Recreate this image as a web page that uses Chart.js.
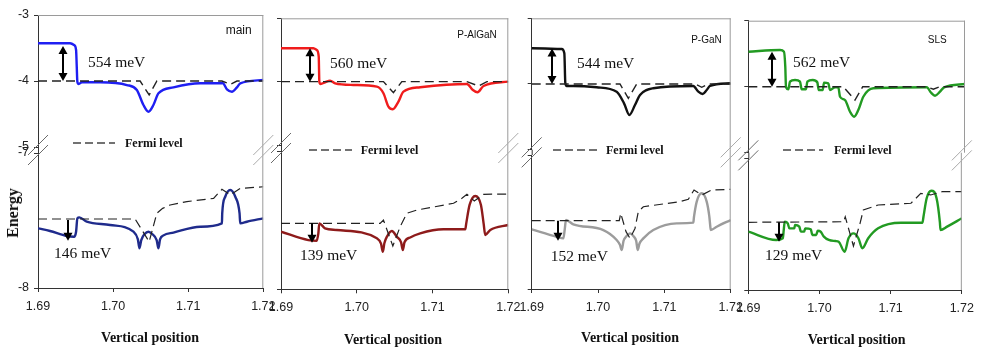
<!DOCTYPE html>
<html>
<head>
<meta charset="utf-8">
<script src="https://cdn.jsdelivr.net/npm/chart.js@4/dist/chart.umd.min.js"></script>
<style>
  html, body { margin: 0; padding: 0; background: #fff; }
  #wrap { position: relative; width: 981px; height: 350px; overflow: hidden; }
  #wrap canvas { position: absolute; left: 0; top: 0; }
  .t { position: absolute; white-space: nowrap; color: #111; line-height: 1; }
  .mev { font: 15.5px "Liberation Serif", serif; transform: translateY(-50%); }
  .fermi { font: bold 12px "Liberation Serif", serif; transform: translateY(-50%); }
  .tag { font: 10px "Liberation Sans", Arial, sans-serif; transform: translate(-100%, -50%); }
  .tag.big { font-size: 12px; }
  .xt { font: bold 14px "Liberation Serif", serif; transform: translate(-50%, -50%); }
  .yt { font: bold 16px "Liberation Serif", serif; transform: translate(-50%, -50%) rotate(-90deg); }
</style>
</head>
<body>
<div id="wrap"></div>
<script>
// axis ticks
const xTicks = [1.69, 1.70, 1.71, 1.72];
const upperTicks = [-3, -4, -5];
const lowerTicks = [-7, -8];

const panelNames = ["main", "P-AlGaN", "P-GaN", "SLS"];
const gapUp = [554, 560, 544, 562];   // meV, upper arrows
const gapLow = [146, 139, 152, 129];  // meV, lower arrows

// main
const mainUpper = [[1.69,-3.429],[1.69427,-3.429],[1.6948,-3.455],[1.69507,-3.53],[1.69516,-3.783],[1.69524,-4.01],[1.69543,-4.045],[1.69583,-4.02],[1.69827,-4.02],[1.70183,-4.061],[1.70316,-4.136],[1.70404,-4.364],[1.70471,-4.465],[1.70537,-4.364],[1.70604,-4.187],[1.70804,-4.096],[1.7116,-4.035],[1.71462,-4.035],[1.71516,-4.126],[1.71582,-4.162],[1.71649,-4.096],[1.71693,-4.035],[1.72,-3.985]];
const mainUpperFermi = [[1.69,-4],[1.7036,-4],[1.7048,-4.212],[1.70583,-4],[1.71449,-4],[1.7156,-4.05],[1.71649,-4],[1.72,-4]];
const mainLower = [[1.69,-7.558],[1.6916,-7.578],[1.69383,-7.615],[1.6948,-7.62],[1.69507,-7.583],[1.69524,-7.484],[1.6955,-7.477],[1.69649,-7.509],[1.6996,-7.533],[1.70271,-7.583],[1.7033,-7.64],[1.70351,-7.706],[1.70375,-7.645],[1.7042,-7.6],[1.70471,-7.583],[1.7052,-7.6],[1.7058,-7.645],[1.70604,-7.706],[1.70625,-7.64],[1.70671,-7.61],[1.70804,-7.59],[1.7116,-7.546],[1.71449,-7.521],[1.71453,-7.447],[1.71493,-7.324],[1.7156,-7.274],[1.71627,-7.324],[1.71684,-7.447],[1.71693,-7.521],[1.71782,-7.509],[1.72,-7.484]];
const mainLowerFermi = [[1.69,-7.489],[1.70293,-7.489],[1.7048,-7.657],[1.70582,-7.447],[1.7066,-7.41],[1.7076,-7.385],[1.70982,-7.36],[1.71338,-7.336],[1.71449,-7.269],[1.7156,-7.31],[1.71693,-7.262],[1.72,-7.25]];

// P-AlGaN
const alganUpper = [[1.69,-3.473],[1.69427,-3.473],[1.69471,-3.5],[1.69498,-3.606],[1.69506,-4.0],[1.69524,-4.036],[1.69581,-4.01],[1.69648,-3.984],[1.69714,-4.026],[1.69955,-4.052],[1.70265,-4.079],[1.70352,-4.183],[1.70418,-4.394],[1.70476,-4.435],[1.7055,-4.315],[1.70616,-4.157],[1.70837,-4.088],[1.71454,-4.036],[1.71533,-4.131],[1.71594,-4.167],[1.71673,-4.068],[1.72,-4.0]];
const alganUpperFermi = [[1.69,-4],[1.70352,-4],[1.70484,-4.173],[1.70595,-4],[1.71454,-4],[1.71607,-4.068],[1.71718,-4],[1.72,-4]];
const alganLower = [[1.69,-7.583],[1.69361,-7.644],[1.69471,-7.649],[1.69493,-7.595],[1.69506,-7.523],[1.69581,-7.559],[1.69736,-7.571],[1.70265,-7.631],[1.7032,-7.67],[1.70344,-7.728],[1.70365,-7.665],[1.70397,-7.62],[1.70463,-7.578],[1.70529,-7.62],[1.70585,-7.66],[1.70608,-7.716],[1.7063,-7.66],[1.70705,-7.625],[1.70837,-7.595],[1.71145,-7.566],[1.71432,-7.566],[1.71445,-7.523],[1.71489,-7.39],[1.71564,-7.325],[1.71639,-7.39],[1.71674,-7.523],[1.71696,-7.607],[1.71762,-7.571],[1.72,-7.535]];
const alganLowerFermi = [[1.69,-7.523],[1.70308,-7.523],[1.70352,-7.499],[1.70476,-7.687],[1.70573,-7.547],[1.70661,-7.45],[1.70793,-7.427],[1.71277,-7.378],[1.71388,-7.342],[1.71454,-7.313],[1.71551,-7.361],[1.71674,-7.313],[1.72,-7.311]];

// P-GaN
const ganUpper = [[1.69,-3.457],[1.69452,-3.467],[1.69492,-3.533],[1.69507,-3.989],[1.69528,-4.03],[1.69627,-4.03],[1.6998,-4.05],[1.70281,-4.117],[1.70392,-4.294],[1.70472,-4.472],[1.70557,-4.32],[1.70633,-4.167],[1.70833,-4.065],[1.71436,-4.03],[1.71512,-4.117],[1.71578,-4.152],[1.71638,-4.091],[1.71688,-4.03],[1.72,-3.989]];
const ganUpperFermi = [[1.69,-4],[1.70331,-4],[1.70457,-4.218],[1.70583,-4],[1.71462,-4],[1.71563,-4.05],[1.71663,-4],[1.72,-4]];
const ganLower = [[1.69,-7.555],[1.69377,-7.61],[1.69477,-7.622],[1.69497,-7.56],[1.69517,-7.485],[1.69627,-7.517],[1.7008,-7.56],[1.70281,-7.634],[1.7033,-7.67],[1.70357,-7.709],[1.70385,-7.64],[1.70422,-7.61],[1.70482,-7.585],[1.70542,-7.61],[1.70575,-7.64],[1.70598,-7.709],[1.70625,-7.66],[1.70683,-7.622],[1.70833,-7.56],[1.71186,-7.51],[1.71436,-7.505],[1.71447,-7.46],[1.71488,-7.348],[1.71563,-7.286],[1.71638,-7.348],[1.71678,-7.46],[1.71688,-7.51],[1.71699,-7.56],[1.71789,-7.535],[1.72,-7.485]];
const ganLowerFermi = [[1.69,-7.49],[1.7032,-7.49],[1.70342,-7.435],[1.70422,-7.572],[1.70482,-7.622],[1.70557,-7.548],[1.70607,-7.423],[1.70683,-7.386],[1.71236,-7.348],[1.71361,-7.331],[1.71447,-7.261],[1.71563,-7.299],[1.71714,-7.261],[1.72,-7.256]];

// SLS
const slsUpper = [[1.69,-3.47],[1.69439,-3.444],[1.69494,-3.47],[1.69512,-3.697],[1.69522,-4.009],[1.69554,-4.039],[1.69577,-3.924],[1.69647,-3.898],[1.69716,-3.924],[1.69739,-4.039],[1.69799,-4.039],[1.69817,-3.924],[1.69892,-3.898],[1.69955,-3.933],[1.69975,-4.05],[1.7003,-4.05],[1.70048,-3.939],[1.70108,-3.948],[1.70131,-4.05],[1.70201,-4.009],[1.70246,-4.009],[1.7027,-4.152],[1.70339,-4.202],[1.70408,-4.379],[1.70464,-4.455],[1.70523,-4.353],[1.70592,-4.152],[1.70731,-4.024],[1.7147,-4.009],[1.7153,-4.091],[1.71585,-4.136],[1.71654,-4.076],[1.7171,-4.009],[1.72,-3.959]];
const slsUpperFermi = [[1.69,-4],[1.70315,-4],[1.70477,-4.202],[1.70584,-4],[1.7147,-4],[1.71562,-4.039],[1.71654,-4],[1.72,-4]];
const slsLower = [[1.69,-7.558],[1.69393,-7.621],[1.69485,-7.608],[1.69498,-7.545],[1.69512,-7.483],[1.69554,-7.495],[1.69577,-7.533],[1.69647,-7.533],[1.69656,-7.508],[1.69716,-7.52],[1.69739,-7.558],[1.69785,-7.558],[1.69799,-7.533],[1.69878,-7.54],[1.699,-7.583],[1.69955,-7.583],[1.69975,-7.551],[1.70016,-7.558],[1.70062,-7.596],[1.70131,-7.621],[1.70224,-7.629],[1.7027,-7.634],[1.70353,-7.71],[1.70408,-7.608],[1.70477,-7.571],[1.70547,-7.608],[1.70602,-7.684],[1.70685,-7.608],[1.70824,-7.533],[1.71146,-7.49],[1.71447,-7.49],[1.71461,-7.445],[1.71506,-7.305],[1.71571,-7.248],[1.71645,-7.305],[1.71692,-7.49],[1.717,-7.545],[1.71793,-7.52],[1.72,-7.457]];
const slsLowerFermi = [[1.69,-7.487],[1.70339,-7.483],[1.70362,-7.445],[1.70477,-7.667],[1.7057,-7.495],[1.70616,-7.394],[1.70824,-7.356],[1.71285,-7.343],[1.71423,-7.268],[1.71562,-7.28],[1.71724,-7.255],[1.72,-7.255]];

// arrows: [x, from, to]
const upperArrows = [[1.69338,-3.47,-4.0],[1.69383,-3.473,-4.0],[1.69311,-3.46,-4.0],[1.69324,-3.47,-4.0]];
const lowerArrows = [[1.69404,-7.496,-7.65],[1.69406,-7.523,-7.663],[1.69392,-7.49,-7.64],[1.69429,-7.487,-7.634]];

const bandsUp = [mainUpper, alganUpper, ganUpper, slsUpper];
const fermiUp = [mainUpperFermi, alganUpperFermi, ganUpperFermi, slsUpperFermi];
const bandsLow = [mainLower, alganLower, ganLower, slsLower];
const fermiLow = [mainLowerFermi, alganLowerFermi, ganLowerFermi, slsLowerFermi];

// page layout of each panel (px)
const frames = [
  { L: 38, R: 263.3, T: 15, uB: 147, lT: 153, B: 288, legend: [73, 115, 143] },
  { L: 281, R: 508.3, T: 18.3, uB: 145, lT: 151, B: 289.3, legend: [309, 352, 150] },
  { L: 531.7, R: 730.7, T: 18.3, uB: 149.7, lT: 155, B: 289, legend: [553, 597, 150] },
  { L: 748.3, R: 965, T: 20.7, uB: 152.7, lT: 158, B: 290, legend: [783, 823, 150] }
];
const colors = [
  { up: "#1f1ff2", low: "#1f2b8c" },
  { up: "#f01c1c", low: "#8e1b1b" },
  { up: "#111111", low: "#9c9c9c" },
  { up: "#229a22", low: "#229a22" }
];
const AXIS_W = 30;  // fixed y axis box width
const AXIS_H = 28;  // fixed x axis box height

function drawArrow(ctx, px, p1, p2, both) {
  const hl = 8, hw = 4.5;
  const dir = Math.sign(p2 - p1);
  ctx.strokeStyle = "#000";
  ctx.fillStyle = "#000";
  ctx.lineWidth = 2;
  ctx.beginPath();
  ctx.moveTo(px, both ? p1 + dir * hl * 0.8 : p1);
  ctx.lineTo(px, p2 - dir * hl * 0.8);
  ctx.stroke();
  const head = (tip, d) => {
    ctx.beginPath();
    ctx.moveTo(px, tip);
    ctx.lineTo(px - hw, tip - d * hl);
    ctx.lineTo(px + hw, tip - d * hl);
    ctx.closePath();
    ctx.fill();
  };
  head(p2, dir);
  if (both) head(p1, -dir);
}

const decor = {
  id: "decor",
  afterDatasetsDraw(chart, args, o) {
    const { ctx, chartArea: a, scales: { x, y } } = chart;
    ctx.save();
    ctx.lineWidth = 1;
    // top and right frame
    ctx.strokeStyle = "#9a9a9a";
    ctx.beginPath();
    if (o.upper) {
      ctx.moveTo(a.left, a.top + 0.5);
      ctx.lineTo(a.right, a.top + 0.5);
    }
    ctx.moveTo(a.right - 0.5, a.top - (o.gap || 0));
    ctx.lineTo(a.right - 0.5, a.bottom);
    ctx.stroke();
    if (o.gap) {
      ctx.strokeStyle = "#333";
      ctx.beginPath();
      ctx.moveTo(a.left + 0.5, a.top - o.gap);
      ctx.lineTo(a.left + 0.5, a.top);
      ctx.stroke();
      // axis break marks
      const yc = a.top - o.gap / 2;
      [[a.left, "#6a6a6a"], [a.right, "#aaaaaa"]].forEach(([xe, c]) => {
        ctx.strokeStyle = c;
        ctx.lineWidth = 1;
        [-5, 5].forEach(off => {
          ctx.beginPath();
          ctx.moveTo(xe - 10, yc + off + 10);
          ctx.lineTo(xe + 10, yc + off - 10);
          ctx.stroke();
        });
      });
    }
    if (o.legend) {
      const [x1, x2, ly] = o.legend;
      ctx.strokeStyle = "#444";
      ctx.lineWidth = 1.4;
      ctx.setLineDash([8, 4]);
      ctx.beginPath();
      ctx.moveTo(x1, ly);
      ctx.lineTo(x2, ly);
      ctx.stroke();
      ctx.setLineDash([]);
    }
    if (o.arrow) {
      const [ax, v1, v2] = o.arrow;
      drawArrow(ctx, Math.round(x.getPixelForValue(ax)), y.getPixelForValue(v1), y.getPixelForValue(v2), o.upper);
    }
    ctx.restore();
  }
};

const toXY = arr => arr.map(([x, y]) => ({ x, y }));
const wrap = document.getElementById("wrap");
const tickFont = { family: "'Liberation Sans', Arial, sans-serif", size: 12.5 };

function build(i, isUp) {
  const f = frames[i];
  const cv = document.createElement("canvas");
  cv.width = 981;
  cv.height = 350;
  wrap.appendChild(cv);
  const top = isUp ? f.T : f.lT;
  const bottom = isUp ? 350 - f.uB : 350 - f.B - AXIS_H;
  return new Chart(cv, {
    type: "line",
    data: {
      datasets: [
        {
          data: toXY(isUp ? fermiUp[i] : fermiLow[i]),
          borderColor: "#222",
          borderWidth: isUp ? 1.4 : 1.2,
          borderDash: [9, 5],
          pointRadius: 0,
          tension: 0
        },
        {
          data: toXY(isUp ? bandsUp[i] : bandsLow[i]),
          borderColor: isUp ? colors[i].up : colors[i].low,
          borderWidth: 2.4,
          pointRadius: 0,
          cubicInterpolationMode: "monotone"
        }
      ]
    },
    options: {
      responsive: false,
      animation: false,
      devicePixelRatio: 1,
      events: [],
      layout: { padding: { left: f.L - AXIS_W, right: 981 - f.R, top: top, bottom: bottom } },
      plugins: {
        legend: { display: false },
        tooltip: { enabled: false },
        decor: {
          upper: isUp,
          gap: isUp ? 0 : f.lT - f.uB,
          legend: isUp ? f.legend : null,
          arrow: isUp ? upperArrows[i] : lowerArrows[i]
        }
      },
      scales: {
        x: {
          type: "linear",
          min: 1.69,
          max: 1.72,
          display: !isUp,
          afterFit: s => { s.height = isUp ? 0 : AXIS_H; },
          afterBuildTicks: s => { s.ticks = xTicks.map(v => ({ value: v })); },
          ticks: { callback: v => v.toFixed(2), font: tickFont, color: "#222", padding: 7, maxRotation: 0, autoSkip: false },
          grid: { drawOnChartArea: false, tickLength: 4, color: "#333" },
          border: { color: "#333" }
        },
        y: {
          type: "linear",
          min: isUp ? -5 : -8,
          max: isUp ? -3 : -7,
          afterFit: s => { s.width = AXIS_W; },
          afterBuildTicks: s => { s.ticks = (isUp ? upperTicks : lowerTicks).map(v => ({ value: v })); },
          ticks: { display: i === 0, font: tickFont, color: "#222", padding: 5 },
          grid: { drawOnChartArea: false, tickLength: 4, color: "#333" },
          border: { color: "#333" }
        }
      }
    },
    plugins: [decor]
  });
}

for (let i = 0; i < 4; i++) {
  build(i, true);
  build(i, false);
}

// text labels (positions in page px)
const upLabelPos = [[88, 62], [330, 63], [577, 63], [793, 62]];
const lowLabelPos = [[54, 253], [300, 255], [550.7, 256], [765, 255]];
const tagPos = [[251.7, 30], [496.7, 34], [721.7, 39], [946.7, 39]];
const fermiPos = [[125, 143], [360.7, 150], [606, 150], [834, 150]];
const xTitlePos = [[150, 338], [393, 340], [630, 338], [856.7, 340]];

function addText(text, cls, x, y) {
  const d = document.createElement("div");
  d.className = "t " + cls;
  d.textContent = text;
  d.style.left = x + "px";
  d.style.top = y + "px";
  wrap.appendChild(d);
}

for (let i = 0; i < 4; i++) {
  addText(gapUp[i] + " meV", "mev", upLabelPos[i][0], upLabelPos[i][1]);
  addText(gapLow[i] + " meV", "mev", lowLabelPos[i][0], lowLabelPos[i][1]);
  addText(panelNames[i], i === 0 ? "tag big" : "tag", tagPos[i][0], tagPos[i][1]);
  addText("Fermi level", "fermi", fermiPos[i][0], fermiPos[i][1]);
  addText("Vertical position", "xt", xTitlePos[i][0], xTitlePos[i][1]);
}
addText("Energy", "yt", 13, 213);
</script>
</body>
</html>
